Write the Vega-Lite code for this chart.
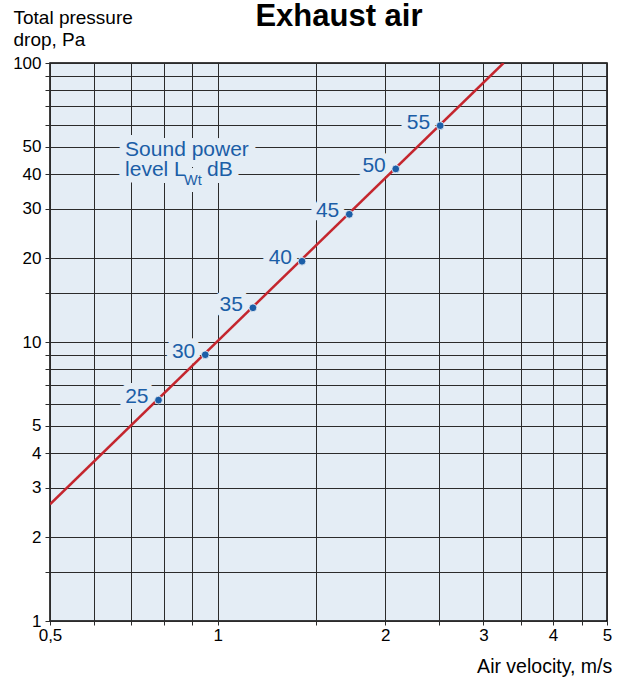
{
  "$schema": "https://vega.github.io/schema/vega-lite/v6.json",
  "width": 557,
  "height": 558,
  "autosize": {"type": "none"},
  "padding": {"left": 50, "top": 63, "right": 15, "bottom": 58},
  "background": "white",
  "datasets": {
    "curve": [
      {"velocity": 0.5, "pressure": 2.62},
      {"velocity": 3.26, "pressure": 100}
    ],
    "levels": [
      {"velocity": 0.783, "pressure": 6.19, "db": 25},
      {"velocity": 0.95, "pressure": 9.0, "db": 30},
      {"velocity": 1.157, "pressure": 13.26, "db": 35},
      {"velocity": 1.417, "pressure": 19.47, "db": 40},
      {"velocity": 1.723, "pressure": 28.69, "db": 45},
      {"velocity": 2.088, "pressure": 41.72, "db": 50},
      {"velocity": 2.509, "pressure": 59.63, "db": 55}
    ],
    "note": [
      {"title": "Exhaust air", "line1": "Sound power", "line2": "level L", "sub": "Wt", "unit": "dB"}
    ]
  },
  "layer": [
    {
      "data": {"name": "levels"},
      "mark": {
        "type": "text",
        "align": "right",
        "baseline": "alphabetic",
        "dx": -10,
        "dy": 3,
        "fontSize": 21,
        "fill": "#e4edf5",
        "stroke": "#e4edf5",
        "strokeWidth": 12,
        "strokeJoin": "round"
      },
      "encoding": {
        "x": {
          "field": "velocity",
          "type": "quantitative",
          "scale": {"type": "log", "domain": [0.5, 5], "nice": false},
          "axis": {
            "values": [0.5, 0.6, 0.7, 0.8, 0.9, 1, 1.5, 2, 2.5, 3, 3.5, 4, 4.5, 5],
            "labelExpr": "datum.value == 0.5 ? '0,5' : (datum.value == 1 || datum.value == 2 || datum.value == 3 || datum.value == 4 || datum.value == 5) ? '' + datum.value : ''",
            "title": "Air velocity, m/s",
            "titleFontSize": 19.5,
            "titleX": 561.7,
            "titleY": 51,
            "titleAlign": "right",
            "titleBaseline": "alphabetic",
            "tickSize": 4,
            "labelPadding": 2,
            "labelAlign": "center",
            "labelBaseline": "top"
          }
        },
        "y": {
          "field": "pressure",
          "type": "quantitative",
          "scale": {"type": "log", "domain": [1, 100], "nice": false},
          "axis": {
            "values": [1, 1.5, 2, 3, 4, 5, 6, 7, 8, 9, 10, 15, 20, 30, 40, 50, 60, 70, 80, 90, 100],
            "labelExpr": "indexof([1, 2, 3, 4, 5, 10, 20, 30, 40, 50, 100], datum.value) >= 0 ? '' + datum.value : ''",
            "title": ["Total pressure", "drop, Pa"],
            "titleFontSize": 19,
            "titleAngle": 0,
            "titleX": -37,
            "titleY": -40,
            "titleAlign": "left",
            "titleBaseline": "alphabetic",
            "titleLineHeight": 22,
            "tickSize": 5,
            "labelPadding": 4
          }
        },
        "text": {"field": "db"}
      }
    },
    {
      "data": {"name": "note"},
      "mark": {
        "type": "text",
        "align": "left",
        "baseline": "alphabetic",
        "fontSize": 21,
        "fill": "#e4edf5",
        "stroke": "#e4edf5",
        "strokeWidth": 14,
        "strokeJoin": "round"
      },
      "encoding": {
        "x": {"datum": 0.682, "type": "quantitative", "scale": {"type": "log", "domain": [0.5, 5], "nice": false}},
        "y": {"datum": 46.6, "type": "quantitative", "scale": {"type": "log", "domain": [1, 100], "nice": false}},
        "text": {"field": "line1"}
      }
    },
    {
      "data": {"name": "note"},
      "mark": {
        "type": "text",
        "align": "left",
        "baseline": "alphabetic",
        "dy": 20,
        "fontSize": 21,
        "fill": "#e4edf5",
        "stroke": "#e4edf5",
        "strokeWidth": 14,
        "strokeJoin": "round"
      },
      "encoding": {
        "x": {"datum": 0.682, "type": "quantitative", "scale": {"type": "log", "domain": [0.5, 5], "nice": false}},
        "y": {"datum": 46.6, "type": "quantitative", "scale": {"type": "log", "domain": [1, 100], "nice": false}},
        "text": {"field": "line2"}
      }
    },
    {
      "data": {"name": "note"},
      "mark": {
        "type": "text",
        "align": "left",
        "baseline": "alphabetic",
        "dx": 59,
        "dy": 29,
        "fontSize": 14.5,
        "fill": "#e4edf5",
        "stroke": "#e4edf5",
        "strokeWidth": 14,
        "strokeJoin": "round"
      },
      "encoding": {
        "x": {"datum": 0.682, "type": "quantitative", "scale": {"type": "log", "domain": [0.5, 5], "nice": false}},
        "y": {"datum": 46.6, "type": "quantitative", "scale": {"type": "log", "domain": [1, 100], "nice": false}},
        "text": {"field": "sub"}
      }
    },
    {
      "data": {"name": "note"},
      "mark": {
        "type": "text",
        "align": "left",
        "baseline": "alphabetic",
        "dx": 82,
        "dy": 20,
        "fontSize": 21,
        "fill": "#e4edf5",
        "stroke": "#e4edf5",
        "strokeWidth": 14,
        "strokeJoin": "round"
      },
      "encoding": {
        "x": {"datum": 0.682, "type": "quantitative", "scale": {"type": "log", "domain": [0.5, 5], "nice": false}},
        "y": {"datum": 46.6, "type": "quantitative", "scale": {"type": "log", "domain": [1, 100], "nice": false}},
        "text": {"field": "unit"}
      }
    },
    {
      "data": {"name": "curve"},
      "mark": {"type": "line", "color": "#c4262e", "strokeWidth": 2.5, "clip": true},
      "encoding": {
        "x": {"field": "velocity", "type": "quantitative", "scale": {"type": "log", "domain": [0.5, 5], "nice": false}},
        "y": {"field": "pressure", "type": "quantitative", "scale": {"type": "log", "domain": [1, 100], "nice": false}}
      }
    },
    {
      "data": {"name": "levels"},
      "mark": {
        "type": "point",
        "shape": "circle",
        "filled": true,
        "size": 60,
        "color": "#1b5ea7",
        "stroke": "#eef3f8",
        "strokeWidth": 0.8,
        "opacity": 1
      },
      "encoding": {
        "x": {"field": "velocity", "type": "quantitative", "scale": {"type": "log", "domain": [0.5, 5], "nice": false}},
        "y": {"field": "pressure", "type": "quantitative", "scale": {"type": "log", "domain": [1, 100], "nice": false}}
      }
    },
    {
      "data": {"name": "levels"},
      "mark": {
        "type": "text",
        "align": "right",
        "baseline": "alphabetic",
        "dx": -10,
        "dy": 3,
        "fontSize": 21,
        "color": "#1b5ea7"
      },
      "encoding": {
        "x": {"field": "velocity", "type": "quantitative", "scale": {"type": "log", "domain": [0.5, 5], "nice": false}},
        "y": {"field": "pressure", "type": "quantitative", "scale": {"type": "log", "domain": [1, 100], "nice": false}},
        "text": {"field": "db"}
      }
    },
    {
      "data": {"name": "note"},
      "mark": {
        "type": "text",
        "align": "left",
        "baseline": "alphabetic",
        "fontSize": 21,
        "color": "#1b5ea7"
      },
      "encoding": {
        "x": {"datum": 0.682, "type": "quantitative", "scale": {"type": "log", "domain": [0.5, 5], "nice": false}},
        "y": {"datum": 46.6, "type": "quantitative", "scale": {"type": "log", "domain": [1, 100], "nice": false}},
        "text": {"field": "line1"}
      }
    },
    {
      "data": {"name": "note"},
      "mark": {
        "type": "text",
        "align": "left",
        "baseline": "alphabetic",
        "dy": 20,
        "fontSize": 21,
        "color": "#1b5ea7"
      },
      "encoding": {
        "x": {"datum": 0.682, "type": "quantitative", "scale": {"type": "log", "domain": [0.5, 5], "nice": false}},
        "y": {"datum": 46.6, "type": "quantitative", "scale": {"type": "log", "domain": [1, 100], "nice": false}},
        "text": {"field": "line2"}
      }
    },
    {
      "data": {"name": "note"},
      "mark": {
        "type": "text",
        "align": "left",
        "baseline": "alphabetic",
        "dx": 59,
        "dy": 29,
        "fontSize": 14.5,
        "color": "#1b5ea7"
      },
      "encoding": {
        "x": {"datum": 0.682, "type": "quantitative", "scale": {"type": "log", "domain": [0.5, 5], "nice": false}},
        "y": {"datum": 46.6, "type": "quantitative", "scale": {"type": "log", "domain": [1, 100], "nice": false}},
        "text": {"field": "sub"}
      }
    },
    {
      "data": {"name": "note"},
      "mark": {
        "type": "text",
        "align": "left",
        "baseline": "alphabetic",
        "dx": 82,
        "dy": 20,
        "fontSize": 21,
        "color": "#1b5ea7"
      },
      "encoding": {
        "x": {"datum": 0.682, "type": "quantitative", "scale": {"type": "log", "domain": [0.5, 5], "nice": false}},
        "y": {"datum": 46.6, "type": "quantitative", "scale": {"type": "log", "domain": [1, 100], "nice": false}},
        "text": {"field": "unit"}
      }
    },
    {
      "data": {"name": "note"},
      "mark": {
        "type": "text",
        "align": "center",
        "baseline": "alphabetic",
        "fontSize": 31,
        "fontWeight": "bold",
        "color": "#000000"
      },
      "encoding": {
        "x": {"datum": 1.651, "type": "quantitative", "scale": {"type": "log", "domain": [0.5, 5], "nice": false}},
        "y": {"datum": 136, "type": "quantitative", "scale": {"type": "log", "domain": [1, 100], "nice": false}},
        "text": {"field": "title"}
      }
    }
  ],
  "config": {
    "font": "Liberation Sans",
    "view": {"fill": "#e4edf5", "stroke": "#000000", "strokeWidth": 1.5},
    "axis": {
      "domain": false,
      "grid": true,
      "gridColor": "#2b2b2b",
      "gridWidth": 1,
      "gridOpacity": 1,
      "tickColor": "#2b2b2b",
      "tickWidth": 1,
      "labelFont": "Liberation Sans",
      "labelFontSize": 17,
      "labelColor": "#000000",
      "labelOverlap": false,
      "labelFlush": false,
      "labelBound": false,
      "titleFont": "Liberation Sans",
      "titleFontWeight": "normal",
      "titleColor": "#000000"
    }
  }
}
